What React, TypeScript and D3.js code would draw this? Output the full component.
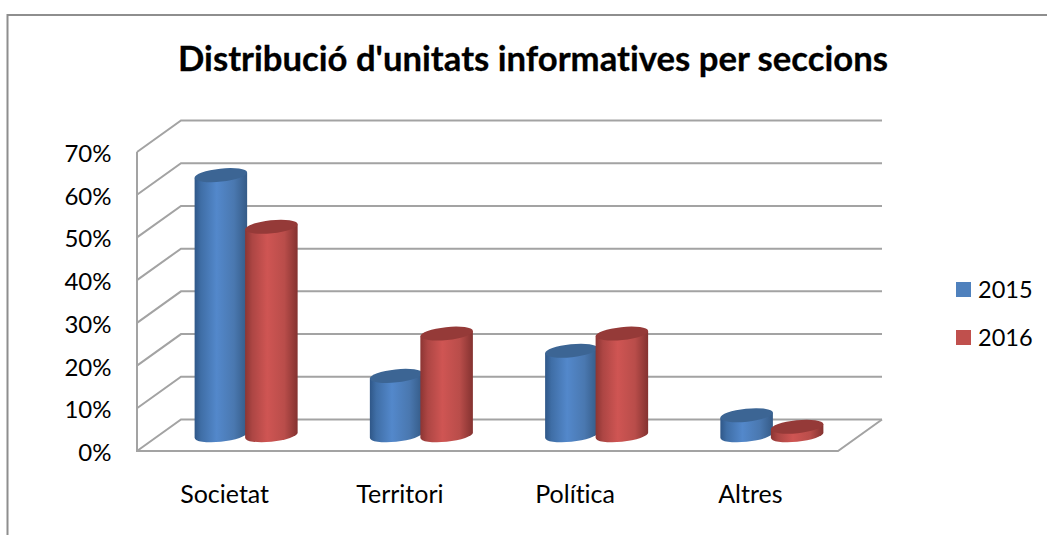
import React from 'react';
import * as d3 from 'd3';

const categories = ['Societat', 'Territori', 'Política', 'Altres'];
const seriesNames = ['2015', '2016'];
const values2015 = [0.609, 0.139, 0.198, 0.047];
const values2016 = [0.488, 0.238, 0.238, 0.02];
const ticks = [0, 0.1, 0.2, 0.3, 0.4, 0.5, 0.6, 0.7];
const title = "Distribució d'unitats informatives per seccions";

const W = 1047, H = 535;
const FONT = 'Lato, "Open Sans", sans-serif';
const GRID = '#a3a3a3';
const depthX = 44, depthY = -31.5;
const y = d3.scaleLinear().domain([0, 0.7]).range([451, 152]);
const x = d3.scaleBand<string>().domain(categories).range([137, 838]);
const sx = d3.scaleBand<string>().domain(seriesNames).range([-51, 50]);

const rx = 26.4, ry = 6.5, tilt = (-6 * Math.PI) / 180;
const dx = Math.sqrt(rx * rx * Math.cos(tilt) ** 2 + ry * ry * Math.sin(tilt) ** 2);
const dyEdge = ((rx * rx - ry * ry) * Math.sin(tilt) * Math.cos(tilt)) / dx;
const tiltDeg = (tilt * 180) / Math.PI;

function Cylinder({ cx, v, grad, top }: { cx: number; v: number; grad: string; top: string }) {
  const yBase = y(0) + depthY / 2;
  const yTop = yBase - (y(0) - y(v));
  const body = `M${cx - dx},${yTop - dyEdge} L${cx - dx},${yBase - dyEdge} A${rx},${ry} ${tiltDeg} 0 0 ${cx + dx},${yBase + dyEdge} L${cx + dx},${yTop + dyEdge} Z`;
  return (
    <g>
      <path d={body} fill={`url(#${grad})`} />
      <ellipse cx={cx} cy={yTop} rx={rx} ry={ry} fill={top} transform={`rotate(${tiltDeg} ${cx} ${yTop})`} />
    </g>
  );
}

export default function App() {
  const seriesData = [values2015, values2016];
  const grads = ['gBlue', 'gRed'];
  const tops = ['#3c6594', '#953a38'];
  const legendColors = ['#4f81bd', '#c0504d'];
  const legendY = [289.5, 337.5];
  return (
    <svg width={W} height={H} style={{ position: 'absolute', left: 0, top: 0, fontVariantLigatures: 'none' }} fontFamily={FONT}>
      <defs>
        <linearGradient id="gBlue" x1="0" x2="1" y1="0" y2="0">
          <stop offset="0" stopColor="#2f5788" />
          <stop offset="0.12" stopColor="#3f6ea6" />
          <stop offset="0.42" stopColor="#5388cb" />
          <stop offset="0.75" stopColor="#4a78b0" />
          <stop offset="1" stopColor="#355b87" />
        </linearGradient>
        <linearGradient id="gRed" x1="0" x2="1" y1="0" y2="0">
          <stop offset="0" stopColor="#8c3533" />
          <stop offset="0.14" stopColor="#ad4644" />
          <stop offset="0.42" stopColor="#cf5553" />
          <stop offset="0.75" stopColor="#b94d4a" />
          <stop offset="1" stopColor="#843230" />
        </linearGradient>
      </defs>
      <rect width={W} height={H} fill="#fff" />
      <path d={`M7.5,${H} V15 H${W}`} fill="none" stroke="#8e8e8e" strokeWidth={2} />
      <text x={533} y={71} textAnchor="middle" fontSize={34.7} fontWeight={700} fill="#000" stroke="#000" strokeWidth={0.3}>{title}</text>

      <g fill="none" stroke={GRID} strokeWidth={2}>
        {ticks.map((t) => (
          <path key={t} d={`M${x.range()[0]},${y(t)} l${depthX},${depthY} H${x.range()[1] + depthX}`} />
        ))}
        <path d={`M${x.range()[0]},${y(0.7)} V${y(0)} H${x.range()[1]} l${depthX},${depthY}`} />
      </g>

      {categories.map((c, i) => {
        const centre = x(c)! + x.bandwidth() / 2 + depthX / 2;
        return (
          <g key={c}>
            {seriesNames.map((s, k) => (
              <Cylinder key={s} cx={centre + sx(s)! + sx.bandwidth() / 2} v={seriesData[k][i]} grad={grads[k]} top={tops[k]} />
            ))}
          </g>
        );
      })}

      <g fontSize={24} fill="#000">
        {ticks.map((t) => (
          <text key={t} x={111.5} y={y(t) + 10} textAnchor="end">{d3.format('.0%')(t)}</text>
        ))}
      </g>
      <g fontSize={25} fill="#000">
        {categories.map((c) => (
          <text key={c} x={x(c)! + x.bandwidth() / 2} y={502.5} textAnchor="middle">{c}</text>
        ))}
      </g>
      <g fontSize={23.5} fill="#000">
        {seriesNames.map((s, k) => (
          <g key={s}>
            <rect x={956} y={legendY[k] - 7.5} width={15} height={15} fill={legendColors[k]} />
            <text x={978} y={legendY[k] + 8.5}>{s}</text>
          </g>
        ))}
      </g>
    </svg>
  );
}
